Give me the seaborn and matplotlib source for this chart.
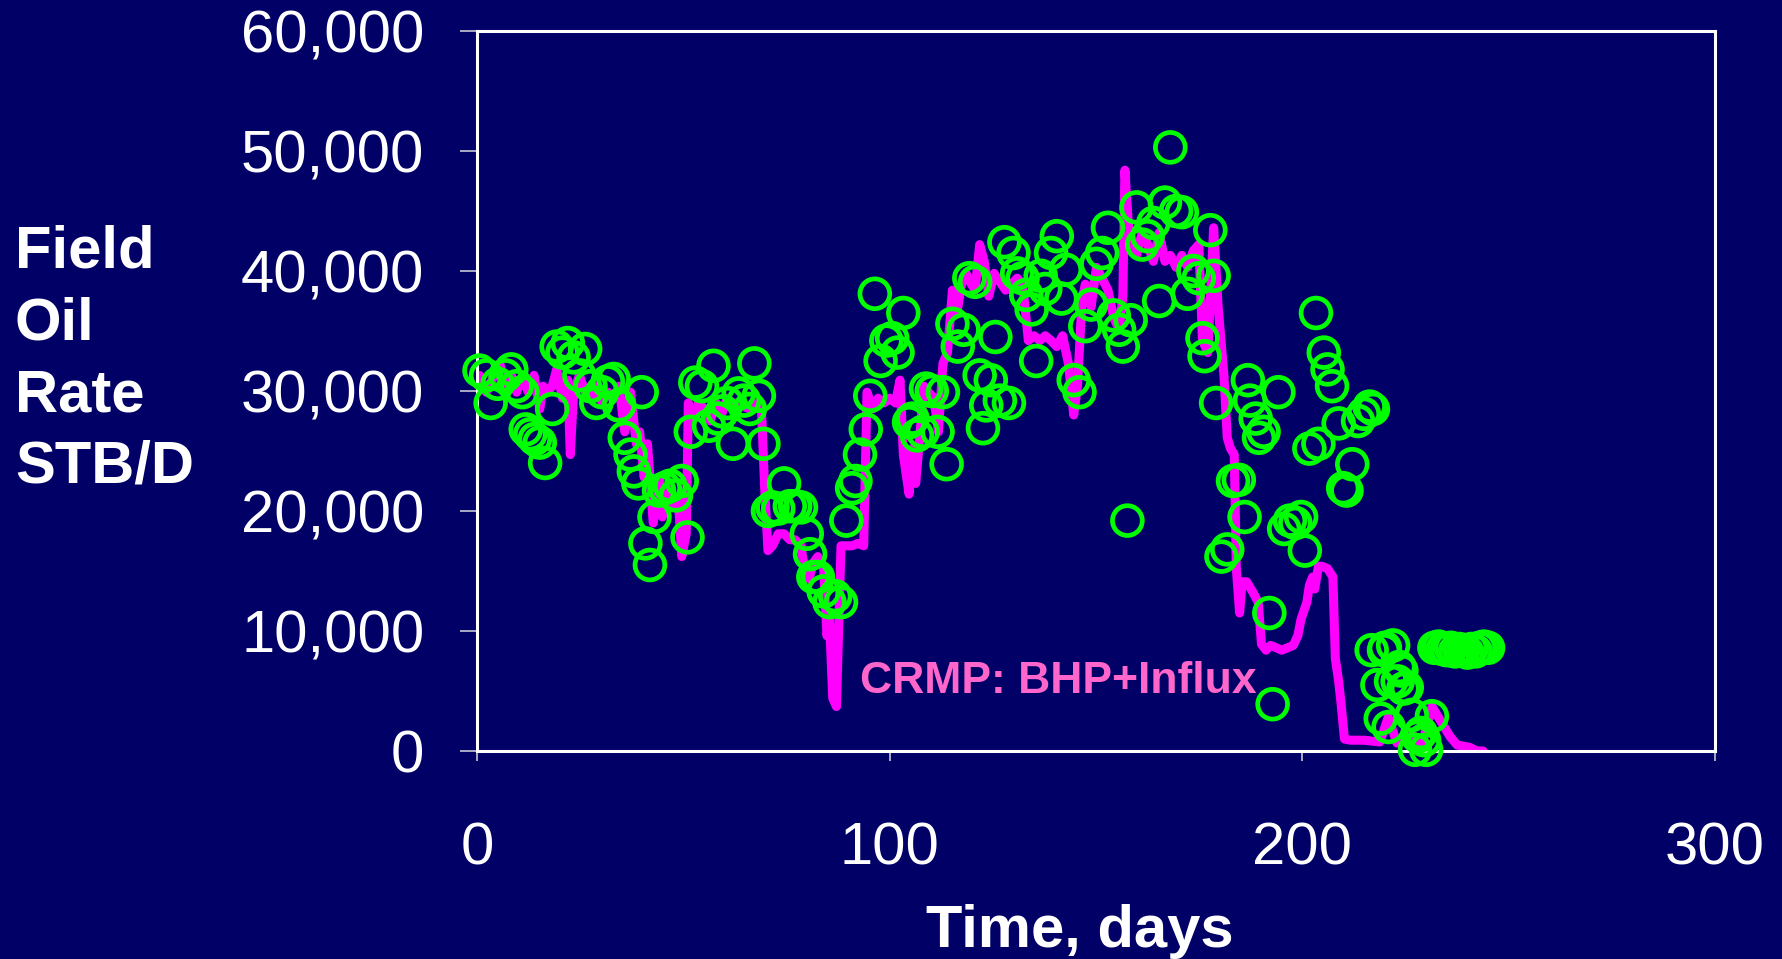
import numpy as np
import pandas as pd
import matplotlib
matplotlib.use("Agg")
import matplotlib.pyplot as plt
import matplotlib.ticker as mticker
import seaborn as sns

sns.set_style("ticks")
plt.rcParams['font.family'] = ['Liberation Sans', 'DejaVu Sans']

# Observed field oil rate (green circles): day, STB/D
obs_days = [0.6, 2.2, 3.3, 5.0, 6.9, 8.3, 9.6, 11.0, 11.8, 12.9, 14.0, 15.2, 16.5, 18.2,
            19.3, 20.7, 22.0, 23.4, 24.8, 26.2, 27.5, 28.9, 30.3, 31.7, 33.1, 34.4, 35.8,
            37.2, 38.0, 39.1, 39.9, 40.8, 41.9, 43.0, 44.1, 45.5, 46.8, 48.2, 49.6, 51.0,
            51.8, 52.9, 54.5, 56.2, 57.3, 58.4, 59.5, 60.6, 62.0, 63.4, 64.7, 66.1, 67.2,
            68.3, 69.4, 70.5, 71.6, 73.0, 74.4, 75.8, 77.1, 78.5, 79.9, 80.7, 81.5, 82.6,
            84.0, 85.4, 86.8, 88.2, 89.5, 90.9, 91.7, 92.8, 94.2, 95.3, 96.4, 97.8, 99.2,
            100.6, 101.9, 103.3, 104.7, 105.5, 106.6, 108.0, 108.8, 110.2, 111.6, 112.9,
            113.8, 115.2, 116.5, 117.9, 119.3, 120.7, 121.8, 122.6, 123.4, 124.5, 125.6,
            126.7, 127.8, 128.9, 130.0, 130.9, 132.2, 133.1, 134.4, 135.5, 136.6, 137.7,
            139.1, 140.5, 141.6, 142.7, 144.6, 146.0, 147.4, 148.8, 150.1, 151.5, 152.9,
            154.3, 155.6, 156.5, 157.6, 158.4, 159.8, 161.2, 162.5, 163.9, 165.3, 166.7,
            168.0, 169.4, 170.8, 172.2, 173.6, 174.9, 175.8, 176.3, 177.7, 178.5, 179.1,
            180.4, 181.8, 183.2, 184.6, 186.0, 186.8, 187.3, 188.7, 189.5, 190.6, 192.0,
            192.8, 194.2, 195.6, 197.0, 198.3, 199.7, 200.6, 201.7, 203.3, 203.9, 205.2,
            206.1, 207.2, 208.8, 209.9, 210.7, 212.1, 213.5, 214.9, 216.3, 217.1, 216.8,
            218.2, 219.0, 219.8, 220.9, 222.0, 223.1, 224.0, 225.3, 227.3, 228.7, 230.0,
            231.4, 220.0, 221.5, 223.5, 224.5, 226.5, 228.0, 229.5,
            232.0, 233.0, 234.0, 235.0, 236.0, 237.0, 238.0, 239.0, 240.0, 241.0, 242.0,
            243.0, 244.0, 245.0]
obs_rate = [31700, 31300, 29000, 30600, 31300, 31800, 30400, 29900, 26800, 26400, 26000,
            25700, 24000, 28500, 33700, 33200, 34000, 32800, 31300, 33500, 30400, 29000,
            29900, 30800, 31000, 28800, 26100, 24700, 23300, 22300, 29900, 17300, 15500,
            19500, 21700, 21900, 22100, 21300, 22500, 17800, 26600, 30700, 30400, 27100,
            32100, 27700, 28300, 29000, 25600, 29800, 29200, 28500, 32300, 29600, 25600,
            20000, 20300, 20200, 22300, 20400, 20400, 20300, 18100, 16400, 14500, 14500,
            13300, 12400, 12900, 12400, 19200, 21900, 22500, 24700, 26800, 29600, 38100,
            32500, 34200, 34400, 33200, 36500, 27400, 27700, 26300, 26600, 30200, 30000,
            26600, 29900, 23900, 35600, 33700, 35100, 39400, 39100, 31300, 26900, 28800,
            30900, 34500, 29200, 42400, 29000, 41500, 39800, 39400, 38000, 36800, 32500,
            39600, 38500, 41500, 42900, 37700, 40100, 30900, 29900, 35400, 37200, 40600,
            41500, 43600, 36300, 35100, 33700, 19200, 35900, 45300, 42200, 42900, 44000,
            37500, 45700, 50300, 45000, 44900, 38100, 40000, 39400, 34400, 32900, 43400,
            39600, 29000, 16200, 16800, 22500, 22600, 19500, 30900, 29200, 27700, 26100,
            26600, 11500, 3900, 29900, 18500, 19200, 19000, 19500, 16700, 25200, 36500,
            25600, 33200, 31800, 30400, 27300, 21900, 21700, 23900, 27500, 28100, 28700,
            28500, 8400, 5500, 2700, 8400, 2000, 8800, 5800, 6700, 5300, 100, 1500, 100,
            2900, 8600, 5800, 7000, 5200, 3000, 1200, 900,
            8600, 8700, 8500, 8400, 8600, 8300, 8500, 8400, 8200, 8500, 8300, 8600, 8700,
            8600]

# CRMP model (magenta line): day, STB/D
crmp_days = [0.6, 2.2, 3.6, 5.5, 6.9, 8.3, 9.6, 11.0, 12.4, 13.8, 15.2, 16.0, 17.1, 18.2,
             19.3, 20.7, 22.0, 22.6, 23.4, 24.8, 26.2, 27.5, 28.9, 30.3, 31.7, 33.1, 34.4,
             35.8, 37.2, 38.6, 39.4, 40.5, 41.3, 42.7, 44.1, 44.9, 46.0, 47.4, 48.8, 49.6,
             50.7, 51.2, 52.3, 53.7, 55.1, 56.5, 57.9, 59.2, 60.6, 62.0, 63.4, 64.7, 66.1,
             67.5, 68.9, 69.7, 70.5, 71.6, 73.0, 74.4, 75.8, 77.1, 78.5, 79.3, 80.4, 81.5,
             82.6, 84.0, 84.8, 85.4, 86.2, 87.1, 88.2, 89.5, 90.9, 92.3, 93.7, 94.5, 95.9,
             97.2, 98.6, 100.0, 101.4, 102.5, 103.3, 104.1, 104.7, 105.5, 106.3, 107.4,
             108.3, 109.4, 110.7, 111.8, 112.9, 114.0, 115.2, 116.3, 117.4, 118.5, 119.8,
             120.7, 121.8, 122.9, 124.0, 125.3, 126.7, 128.1, 129.5, 130.9, 132.2, 133.6,
             135.0, 136.4, 137.7, 139.1, 140.5, 141.9, 143.3, 144.6, 145.5, 146.6, 147.4,
             148.8, 150.1, 152.9, 154.3, 155.6, 156.5, 157.0, 157.9, 159.0, 159.8, 161.2,
             162.5, 163.9, 165.3, 166.7, 168.0, 169.4, 170.8, 172.2, 173.6, 174.9, 175.8,
             177.1, 178.5, 179.6, 181.0, 181.8, 182.6, 183.5, 184.0, 184.8, 185.4, 186.5,
             187.9, 189.3, 190.1, 191.2, 192.3, 193.7, 195.0, 196.4, 197.8, 198.9, 199.7,
             201.1, 201.7, 202.5, 203.0, 203.9, 204.7, 206.1, 207.4, 208.0, 208.8, 209.4,
             210.2, 211.6, 214.9, 218.8, 220.8, 222.9, 226.8, 229.0, 231.4, 235.8, 237.5,
             240.6, 242.3, 243.8]
crmp_rate = [31300, 29900, 30900, 32300, 30400, 31300, 29900, 31300, 29900, 31300, 28500,
             30400, 29900, 30400, 31800, 29400, 30900, 24700, 29900, 31300, 29900, 29400,
             30400, 29000, 29900, 29400, 30400, 26600, 29900, 25600, 26600, 22800, 25600,
             19000, 22800, 19500, 21900, 20400, 20900, 16200, 18100, 29000, 27500, 29000,
             28500, 27500, 29000, 28000, 29400, 29000, 29000, 28700, 28500, 29000, 28700,
             21900, 16700, 17100, 18100, 18100, 17600, 17600, 17100, 15200, 14300, 15700,
             16200, 15200, 9600, 11000, 4400, 3700, 17100, 17100, 17100, 17300, 17100,
             29900, 28500, 29400, 29000, 29400, 29000, 30900, 24700, 22800, 21400, 25200,
             22300, 26600, 30400, 29900, 29400, 26600, 32300, 33200, 38400, 36500, 38900,
             39800, 38900, 38400, 42200, 40800, 37900, 39800, 39100, 38400, 38900, 39400,
             38900, 34200, 34600, 34200, 34600, 34200, 33700, 34600, 32300, 28000, 30400,
             37500, 38900, 37000, 40300, 38400, 36100, 35100, 37900, 48400, 43600, 42200,
             41300, 43200, 42200, 40800, 43200, 40800, 41300, 40300, 41300, 40300, 41700,
             42200, 34200, 33200, 43600, 37000, 31300, 26100, 25200, 24700, 15200, 11500,
             14100, 14100, 13300, 12400, 8900, 8400, 8800, 8600, 8400, 8600, 8800, 9600,
             11000, 12400, 13800, 14500, 13500, 15400, 15400, 15200, 14500, 7700, 5800,
             3900, 1000, 900, 900, 750, 2800, 670, 1300, 500, 3700, 1200, 500, 300, 0, 0]

x_ticks = [0, 100, 200, 300]
y_ticks = [0, 10000, 20000, 30000, 40000, 50000, 60000]

navy = '#000066'
crmp = pd.DataFrame({'day': crmp_days, 'rate': crmp_rate})
obs = pd.DataFrame({'day': obs_days, 'rate': obs_rate})

fig = plt.figure(figsize=(17.82, 9.59), dpi=100, facecolor=navy)
ax = fig.add_axes([0.2677, 0.2169, 0.6947, 0.7508])
ax.set_facecolor(navy)

sns.lineplot(data=crmp, x='day', y='rate', sort=False, estimator=None,
             color='#ff00ff', linewidth=6.5, ax=ax, zorder=2)
sns.scatterplot(data=obs, x='day', y='rate', marker='o', s=460,
                color='#00ff00', edgecolor='#00ff00', linewidth=3.4, ax=ax, zorder=4)
ax.collections[-1].set_facecolor('none')
ax.collections[-1].set_clip_on(False)

ax.text(92.8, 5800, 'CRMP: BHP+Influx', color='#ff66cc', fontsize=32,
        fontweight='bold', ha='left', va='center')

ax.set_xlim(0, 300)
ax.set_ylim(0, 60000)
ax.set_xticks(x_ticks)
ax.set_yticks(y_ticks)
ax.yaxis.set_major_formatter(mticker.StrMethodFormatter('{x:,.0f}'))

for sp in ax.spines.values():
    sp.set_color('white')
    sp.set_linewidth(2.2)
    sp.set_zorder(3)

ax.tick_params(axis='y', direction='out', length=12, width=1.2, color='#c8c8d8',
               labelcolor='white', labelsize=43, pad=26)
ax.tick_params(axis='x', direction='out', length=7, width=1.2, color='#c8c8d8',
               labelcolor='white', labelsize=43, pad=44)

ax.set_xlabel('Time, days', color='white', fontsize=43, fontweight='bold')
ax.xaxis.set_label_coords(0.487, -0.212)
ax.set_ylabel('')

fig.text(0.0084, 0.625, 'Field\nOil\nRate\nSTB/D', color='white', fontsize=43,
         fontweight='bold', ha='left', va='center', linespacing=1.39)

fig.savefig('out.png', dpi=100, facecolor=navy)
